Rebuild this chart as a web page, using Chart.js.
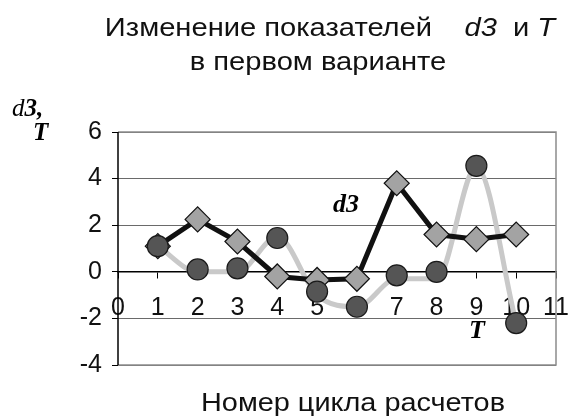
<!DOCTYPE html>
<html>
<head>
<meta charset="utf-8">
<script src="https://cdn.jsdelivr.net/npm/chart.js@4.4.1/dist/chart.umd.min.js"></script>
<style>
  html, body { margin: 0; padding: 0; background: #fff; }
  #wrap { width: 574px; height: 417px; }
</style>
</head>
<body>
<div id="wrap"><canvas id="chart" width="574" height="417"></canvas></div>
<script>
// cycle numbers on x
const cycles = [1, 2, 3, 4, 5, 6, 7, 8, 9, 10];
// d3 series (diamonds, black line)
const d3Values = [1.1, 2.25, 1.3, -0.2, -0.35, -0.3, 3.8, 1.6, 1.4, 1.6];
// T series (dark circles)
const tValues = [1.1, 0.1, 0.15, 1.45, -0.85, -1.5, -0.15, 0.0, 4.55, -2.2];
// light gray smoothed trend line of T
const tTrend = [1.1, 0.0, 0.0, 1.5, -1.0, -1.5, -0.3, -0.3, 4.5, -2.2];

const xTicks = [0, 1, 2, 3, 4, 5, 6, 7, 8, 9, 10, 11];
const yTicks = [-4, -2, 0, 2, 4, 6];

const sans = '"Liberation Sans", Arial, sans-serif';
const serif = '"Liberation Serif", "Times New Roman", serif';

function pts(vals) {
    return cycles.map((c, i) => ({ x: c, y: vals[i] }));
}

// draws a row of text pieces with different fonts, stretched a bit horizontally
function drawPieces(ctx, pieces, cx, y, sx) {
    let total = 0;
    pieces.forEach(p => { ctx.font = p.font; p.w = ctx.measureText(p.text).width; total += p.w; });
    ctx.save();
    ctx.translate(cx, y);
    ctx.scale(sx, 1);
    let x = -total / 2;
    pieces.forEach(p => {
        ctx.font = p.font;
        ctx.fillText(p.text, x, 0);
        x += p.w;
    });
    ctx.restore();
}

const textPlugin = {
    id: 'texts',
    beforeDatasetsDraw(chart) {
        const { ctx, chartArea: a } = chart;
        ctx.save();
        ctx.strokeStyle = '#8c8c8c';
        ctx.lineWidth = 1.5;
        ctx.beginPath();
        ctx.moveTo(a.left, a.top);
        ctx.lineTo(a.right, a.top);
        ctx.lineTo(a.right, a.bottom);
        ctx.lineTo(a.left, a.bottom);
        ctx.stroke();
        ctx.strokeStyle = '#000';
        ctx.beginPath();
        ctx.moveTo(a.left, a.top);
        ctx.lineTo(a.left, a.bottom);
        ctx.stroke();
        ctx.restore();
    },
    afterDraw(chart) {
        const ctx = chart.ctx;
        ctx.save();
        ctx.fillStyle = '#111';
        ctx.textBaseline = 'alphabetic';
        drawPieces(ctx, [
            { text: 'Изменение показателей    ', font: '26px ' + sans },
            { text: 'd3', font: 'italic 26px ' + sans },
            { text: '  и ', font: '26px ' + sans },
            { text: 'T', font: 'italic 26px ' + sans }
        ], 330, 36, 1.12);
        drawPieces(ctx, [{ text: 'в первом варианте', font: '26px ' + sans }], 318, 70, 1.12);
        drawPieces(ctx, [{ text: 'Номер цикла расчетов', font: '26px ' + sans }], 353, 411, 1.11);

        ctx.fillStyle = '#000';
        ctx.textAlign = 'left';
        ctx.font = 'italic 25px ' + serif;
        ctx.fillText('d', 12, 116);
        let w = ctx.measureText('d').width;
        ctx.font = 'bold italic 25px ' + serif;
        ctx.fillText('3,', 12 + w, 116);
        ctx.fillText('T', 33, 140);

        ctx.font = 'bold italic 26px ' + serif;
        ctx.fillText('d3', 333, 212);
        ctx.fillText('T', 469, 338);
        ctx.restore();
    }
};

new Chart(document.getElementById('chart'), {
    type: 'line',
    data: {
        datasets: [
            {
                label: 'T trend',
                data: pts(tTrend),
                borderColor: '#c9c9c9',
                borderWidth: 5,
                pointRadius: 0,
                cubicInterpolationMode: 'monotone',
                order: 3
            },
            {
                label: 'd3',
                data: pts(d3Values),
                borderColor: '#111',
                borderWidth: 5,
                pointStyle: 'rectRot',
                pointRadius: 12.5,
                pointBackgroundColor: '#a3a3a3',
                pointBorderColor: '#111',
                pointBorderWidth: 1.2,
                tension: 0,
                order: 2
            },
            {
                label: 'T',
                data: pts(tValues),
                showLine: false,
                pointStyle: 'circle',
                pointRadius: 10.5,
                pointBackgroundColor: '#555555',
                pointBorderColor: '#1a1a1a',
                pointBorderWidth: 1.2,
                order: 1
            }
        ]
    },
    options: {
        responsive: false,
        animation: false,
        layout: { padding: { left: 0, right: 18, top: 132, bottom: 52 } },
        plugins: {
            legend: { display: false },
            tooltip: { enabled: false }
        },
        scales: {
            x: {
                type: 'linear',
                position: { y: 0 },
                min: 0,
                max: 11,
                afterBuildTicks(scale) { scale.ticks = xTicks.map(v => ({ value: v })); },
                afterFit(scale) { scale.paddingLeft = 0; scale.paddingRight = 0; },
                ticks: {
                    color: '#111',
                    font: { family: sans, size: 25 },
                    padding: 15,
                    maxRotation: 0,
                    autoSkip: false
                },
                grid: { drawOnChartArea: false, color: '#000', tickLength: 6 },
                border: { color: '#000', width: 1.5 }
            },
            y: {
                min: -4,
                max: 6,
                afterBuildTicks(scale) { scale.ticks = yTicks.map(v => ({ value: v })); },
                afterFit(scale) { scale.width = 118; },
                ticks: {
                    color: '#111',
                    font: { family: sans, size: 25 },
                    padding: 10
                },
                grid: { color: '#6a6a6a', lineWidth: 1, tickLength: 6, tickColor: '#000' },
                border: { display: false }
            }
        }
    },
    plugins: [textPlugin]
});
</script>
</body>
</html>
